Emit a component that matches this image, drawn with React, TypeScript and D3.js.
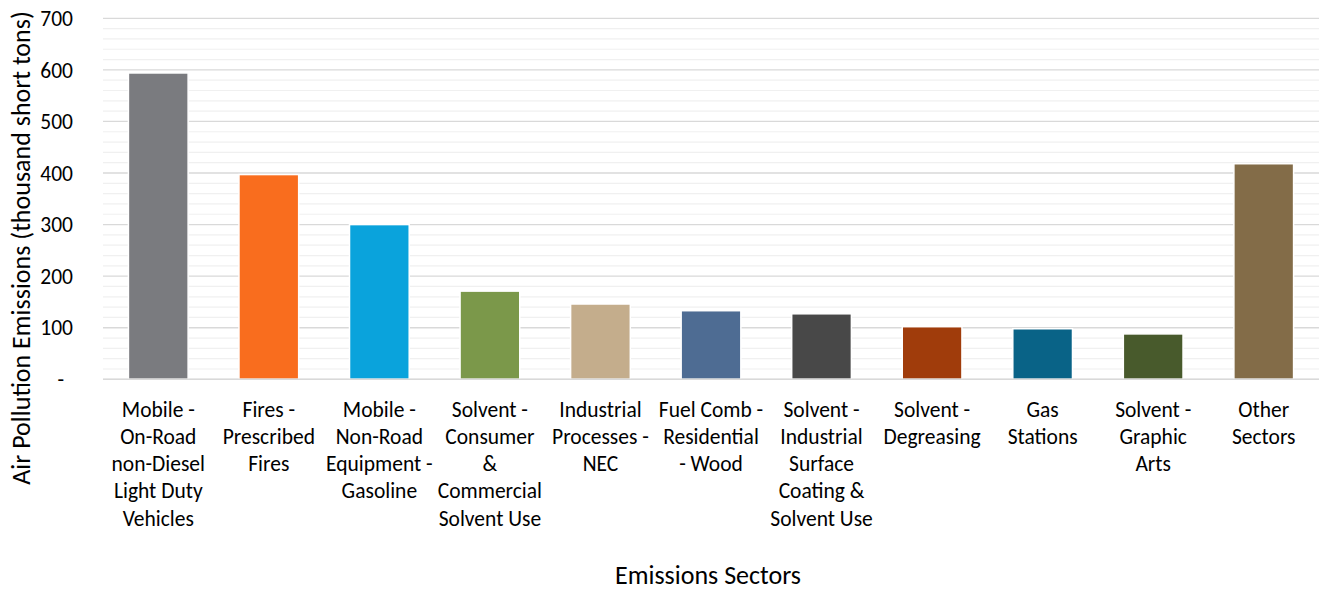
import React from "react";
import * as d3 from "d3";

// Emission sectors (line breaks mark how each label wraps under its bar)
const sectors: string[] = [
  "Mobile -\nOn-Road\nnon-Diesel\nLight Duty\nVehicles",
  "Fires -\nPrescribed\nFires",
  "Mobile -\nNon-Road\nEquipment -\nGasoline",
  "Solvent -\nConsumer\n&\nCommercial\nSolvent Use",
  "Industrial\nProcesses -\nNEC",
  "Fuel Comb -\nResidential\n- Wood",
  "Solvent -\nIndustrial\nSurface\nCoating &\nSolvent Use",
  "Solvent -\nDegreasing",
  "Gas\nStations",
  "Solvent -\nGraphic\nArts",
  "Other\nSectors",
];

// Emissions, thousand short tons
const emissions: number[] = [594, 397, 300, 171, 146, 133, 127, 102, 98, 88, 418];

const barColors: string[] = [
  "#7a7b7f", "#f96d1e", "#0aa3dc", "#7b984a", "#c4ad8c", "#4e6c93",
  "#484848", "#a03c0b", "#096387", "#485a2c", "#836c48",
];

const majorTicks: number[] = [0, 100, 200, 300, 400, 500, 600, 700];

const W = 1322;
const H = 590;
const left = 103;
const right = 1319;
const top = 18.3;
const bottom = 379.3;
const font = "Carlito, Lato, 'Liberation Sans', sans-serif";

export default function App() {
  const x = d3
    .scaleBand<number>()
    .domain(d3.range(sectors.length))
    .range([left, right])
    .paddingInner(0.46)
    .paddingOuter(0.23);
  const y = d3.scaleLinear().domain([0, 700]).range([bottom, top]);
  const minorTicks = d3.range(0, 701, 20).filter((v) => v % 100 !== 0);

  return (
    <svg
      width={W}
      height={H}
      style={{ position: "absolute", left: 0, top: 0, background: "#fff" }}
    >
      {minorTicks.map((v) => (
        <line key={"m" + v} x1={left} x2={right} y1={y(v)} y2={y(v)} stroke="#f0f0f0" strokeWidth={1.2} />
      ))}
      {majorTicks.map((v) => (
        <line key={"M" + v} x1={left} x2={right} y1={y(v)} y2={y(v)} stroke="#d9d9d9" strokeWidth={1.3} />
      ))}
      {emissions.map((v, i) => (
        <rect
          key={i}
          x={x(i)!}
          y={y(v)}
          width={x.bandwidth()}
          height={y(0) - y(v)}
          fill={barColors[i]}
          stroke="#fff"
          strokeWidth={1.5}
        />
      ))}
      <line x1={left} x2={right} y1={y(0)} y2={y(0)} stroke="#d9d9d9" strokeWidth={1.5} />
      {majorTicks.map((v) => (
        <text
          key={"t" + v}
          x={v === 0 ? 64 : 73}
          y={y(v)}
          dy="0.36em"
          textAnchor="end"
          fontFamily={font}
          fontSize={21.5}
          fill="#000"
        >
          {v === 0 ? "-" : d3.format("d")(v)}
        </text>
      ))}
      {sectors.map((s, i) => (
        <text
          key={"c" + i}
          textAnchor="middle"
          fontFamily={font}
          fontSize={21.5}
          fill="#000"
        >
          {s.split("\n").map((line, j) => (
            <tspan key={j} x={x(i)! + x.bandwidth() / 2} y={416.5 + j * 27.3}>
              {line}
            </tspan>
          ))}
        </text>
      ))}
      <text
        x={708}
        y={584}
        textAnchor="middle"
        fontFamily={font}
        fontSize={26}
        fill="#000"
      >
        Emissions Sectors
      </text>
      <text
        transform="translate(30,248) rotate(-90)"
        textAnchor="middle"
        fontFamily={font}
        fontSize={26}
        fill="#000"
      >
        Air Pollution Emissions (thousand short tons)
      </text>
    </svg>
  );
}
